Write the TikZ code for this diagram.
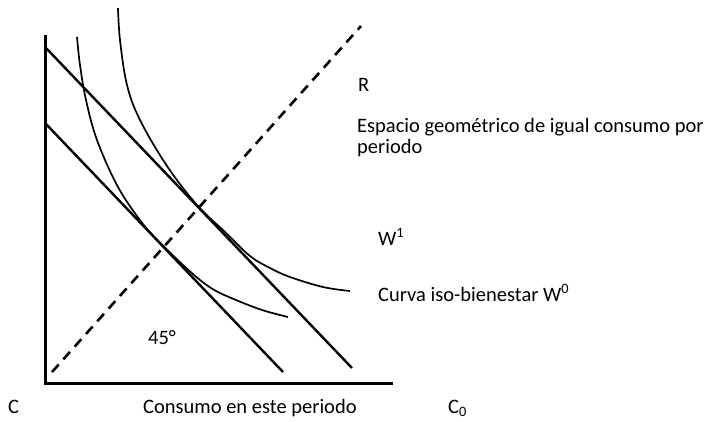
\documentclass[tikz,border=0pt]{standalone}
\usepackage{fontspec}
\setmainfont{Carlito}

\begin{document}
\begin{tikzpicture}[x=1pt,y=-1pt,
  eje/.style={line width=3pt},
  recta/.style={line width=2.4pt},
  curva/.style={line width=1.7pt},
  rayo/.style={line width=2.6pt,dash pattern=on 10pt off 7pt},
  texto/.style={font=\fontsize{20.5}{21}\selectfont,inner sep=0pt,anchor=base west}]
\useasboundingbox (0,0) rectangle (709,421);
\draw[eje] (45,35) -- (45,383) -- (393,383);
\draw[rayo] (52,372) -- (361,26);
\draw[recta] (46,48) -- (352,368);
\draw[recta] (46,124) -- (283,372);
\draw[curva] plot[smooth,tension=0.6] coordinates {(77,37) (80,65) (86,100) (97,140) (118,187) (143,224) (163,245.5) (183,265) (200,280) (216,291) (236,300) (262,310) (288,317)};
\draw[curva] plot[smooth,tension=0.6] coordinates {(118,8) (120,40) (127,85) (140,120) (167,166) (197,205) (225,232) (250,256) (270,268) (290,277) (323,287) (350,291)};
\node[texto] (R) at (358,91) {R};
\node[texto,align=left] (espacio) at (357,153) {Espacio geométrico de igual consumo por\\periodo};
\node[texto] (wuno) at (378,245) {W\textsuperscript{1}};
\node[texto] (curva) at (378,301) {Curva iso-bienestar W\textsuperscript{0}};
\node[texto] (angulo) at (148,344) {45°};
\node[texto] (c) at (8,413) {C};
\node[texto] (consumo) at (143,413) {Consumo en este periodo};
\node[texto] (cero) at (448,413) {C\textsubscript{0}};
\end{tikzpicture}
\end{document}
